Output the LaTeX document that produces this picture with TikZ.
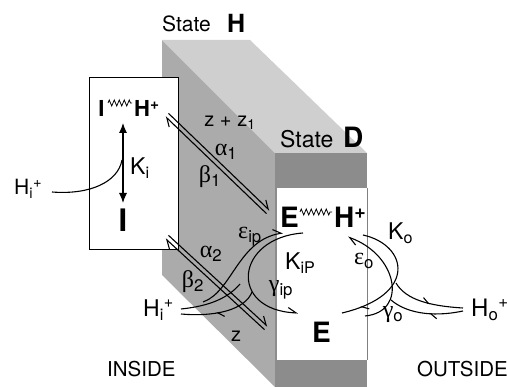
\documentclass[tikz,border=0pt]{standalone}
\usepackage{fontspec}
\setmainfont{TeX Gyre Heros}
\newfontfamily\greekfont{Liberation Serif}
\usetikzlibrary{arrows.meta,calc,decorations.pathmorphing,decorations.markings}

\newcommand{\gk}[2]{{\greekfont #1}\textsubscript{#2}}

\definecolor{topgray}{gray}{0.81}
\definecolor{sidegray}{gray}{0.67}
\definecolor{frontgray}{gray}{0.55}

\begin{document}
\begin{tikzpicture}[
    x=1pt, y=-1pt,
    >=Latex,
    plain/.style={
        font=\fontsize{21}{23}\selectfont,
        inner sep=0pt
    },
    rate/.style={
        font=\fontsize{24}{26}\selectfont,
        inner sep=0pt
    },
    species/.style={
        font=\fontsize{28}{30}\selectfont\bfseries,
        inner sep=0pt
    },
    smallspecies/.style={
        font=\fontsize{22}{24}\selectfont\bfseries,
        inner sep=0pt
    },
    bond/.style={
        decorate,
        line width=0.8pt,
        decoration={zigzag, segment length=5pt, amplitude=3pt}
    },
    harpoon/.style={
        line width=1.1pt,
        -{Straight Barb[left,length=8pt,width=10pt]}
    },
    curve/.style={
        line width=1.1pt
    },
    midharpoon/.style={
        line width=1.1pt,
        postaction=decorate,
        decoration={markings,
            mark=at position #1 with {\arrow{Straight Barb[left,length=6pt,width=9pt]}}}
    }
]
\useasboundingbox (0,0) rectangle (507,387);

% ==================================================
% Membrane slab
% ==================================================

\fill[sidegray] (162,40) -- (275,153) -- (275,387) -- (162,275) -- cycle;
\fill[topgray] (162,40) -- (250,40) -- (367,153) -- (275,153) -- cycle;
\fill[frontgray] (275,153) rectangle (367,387);
\fill[white] (277,188) rectangle (367,360);
\draw[gray, line width=0.6pt] (367,188) -- (367,360);

\node[plain, anchor=base west] (stateHtxt) at (162,32) {State};
\node[species, font=\fontsize{25}{27}\selectfont\bfseries, anchor=base west] (stateHlet) at (227,33) {H};
\node[plain, font=\fontsize{23}{25}\selectfont, anchor=base west] (stateDtxt) at (280,148) {State};
\node[species, anchor=base west] (stateDlet) at (343,148) {D};

% ==================================================
% Inside box
% ==================================================

\node[draw, fill=white, line width=0.8pt, minimum width=89pt, minimum height=172pt,
    inner sep=0pt] (inbox) at (133.5,163) {};

\node[smallspecies, anchor=base] (inI) at (101.5,117) {I};
\node[smallspecies, anchor=base west] (inH) at (134,117) {H\textsuperscript{+}};
\draw[bond] (108,103) -- (132,103);

\node[species, font=\fontsize{31}{33}\selectfont\bfseries, anchor=base] (freeI) at (123,232) {I};

\coordinate (kiTop) at (123,123);
\coordinate (kiBot) at (123,203);
\draw[line width=1.1pt, {Latex[length=10pt,width=8pt]}-{Latex[length=10pt,width=8pt]}] (kiTop) -- (kiBot);
\node[plain, font=\fontsize{23}{25}\selectfont, anchor=base west] (Ki) at (130,175) {K\textsubscript{i}};

\node[plain, anchor=base west] (HiTop) at (14,195) {H\textsubscript{i}\textsuperscript{+}};
\coordinate (kiJoin) at (122,160);
\draw[curve] (52,192) .. controls (90,195) and (118,182) .. (kiJoin);

% ==================================================
% Transitions across the membrane
% ==================================================

\coordinate (aTop) at (167,115);
\coordinate (aBot) at (268,212);
\draw[harpoon] ($(aTop)!2.2pt!90:(aBot)$) -- ($(aBot)!2.2pt!-90:(aTop)$);
\draw[harpoon] ($(aBot)!2.2pt!90:(aTop)$) -- ($(aTop)!2.2pt!-90:(aBot)$);

\coordinate (bTop) at (167,237);
\coordinate (bBot) at (266,328);
\draw[harpoon] ($(bTop)!2.2pt!90:(bBot)$) -- ($(bBot)!2.2pt!-90:(bTop)$);
\draw[harpoon] ($(bBot)!2.2pt!90:(bTop)$) -- ($(bTop)!2.2pt!-90:(bBot)$);

\node[plain, font=\fontsize{20}{22}\selectfont] (zz) at (230,123) {z + z\textsubscript{1}};
\node[rate] (alpha1) at (226,152) {\gk{α}{1}};
\node[rate] (beta1) at (210,177) {\gk{β}{1}};
\node[rate] (alpha2) at (211,254) {\gk{α}{2}};
\node[rate] (beta2) at (193,282) {\gk{β}{2}};
\node[plain, font=\fontsize{20}{22}\selectfont] (zlow) at (236,336) {z};

% ==================================================
% State D box
% ==================================================

\node[species, anchor=base] (dE) at (289.5,228) {E};
\node[species, anchor=base west] (dH) at (334,228) {H\textsuperscript{+}};
\draw[bond] (300,212) -- (332,212);
\node[species, anchor=base] (freeE) at (321.5,343) {E};
\node[plain, font=\fontsize{23}{25}\selectfont, anchor=base west] (KiP) at (285,270) {K\textsubscript{iP}};

% inside protons
\node[plain, font=\fontsize{23}{25}\selectfont, anchor=base west] (HiLow) at (143,317) {H\textsubscript{i}\textsuperscript{+}};
\draw[harpoon] (303,233) .. controls (235,238) and (228,310) .. (298,313);
\draw[harpoon] (203,302) .. controls (232,292) and (238,240) .. (283,233);
\draw[midharpoon=0.55] (252,292) .. controls (245,310) and (215,317) .. (181,314);
\draw[curve] (181,309) .. controls (210,306) and (228,298) .. (240,284);
\node[rate] (epsip) at (250,237) {\gk{ε}{ip}};
\node[rate] (gamip) at (281,290) {\gk{γ}{ip}};

% outside protons
\node[plain, font=\fontsize{24}{26}\selectfont, anchor=base west] (HoR) at (471,317) {H\textsubscript{o}\textsuperscript{+}};
\node[plain, font=\fontsize{23}{25}\selectfont, anchor=base west] (Ko) at (388,240) {K\textsubscript{o}};
\draw[midharpoon=0.85] (363,235) .. controls (408,245) and (418,295) .. (342,313);
\draw[harpoon] (365,316) .. controls (408,312) and (398,255) .. (348,237);
\draw[midharpoon=0.55] (396,283) .. controls (406,300) and (430,306) .. (463,308);
\draw[midharpoon=0.45] (463,311) .. controls (430,318) and (405,312) .. (391,300);
\node[rate] (epso) at (364,261) {\gk{ε}{o}};
\node[rate] (gamo) at (393,315) {\gk{γ}{o}};

% ==================================================
% Sides
% ==================================================

\node[plain, font=\fontsize{20.5}{22}\selectfont, anchor=base west] (inside) at (107,377) {INSIDE};
\node[plain, font=\fontsize{20.5}{22}\selectfont, anchor=base west] (outside) at (417,377) {OUTSIDE};

\end{tikzpicture}
\end{document}
